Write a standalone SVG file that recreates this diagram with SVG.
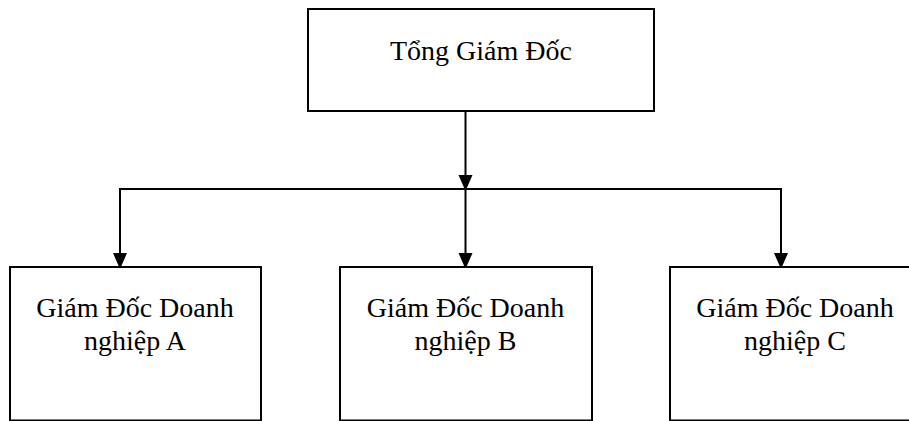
<svg xmlns="http://www.w3.org/2000/svg" width="909" height="421" viewBox="0 0 909 421">
  <style>
    .box { fill: #ffffff; stroke: #000000; stroke-width: 2; }
    .wire { fill: none; stroke: #000000; stroke-width: 2; }
    .label { font-family: "Liberation Serif", Tinos, "Times New Roman", "DejaVu Serif", serif; font-size: 28px; fill: #000000; text-anchor: middle; }
  </style>
  <defs>
    <marker id="arrow" viewBox="0 0 14 16" refX="14" refY="7" markerWidth="14" markerHeight="16" markerUnits="userSpaceOnUse" orient="auto">
      <path d="M0,0 L16,7 L0,14 Z" fill="#000000"/>
    </marker>
  </defs>
  <rect width="909" height="421" fill="#ffffff"/>

  <!-- connectors: trunk, bus, three drops -->
  <g id="connectors">
    <line class="wire" x1="465.5" y1="111" x2="465.5" y2="189" marker-end="url(#arrow)"/>
    <line class="wire" x1="119" y1="189" x2="782" y2="189"/>
    <line class="wire" x1="120" y1="189" x2="120" y2="267" marker-end="url(#arrow)"/>
    <line class="wire" x1="465.5" y1="189" x2="465.5" y2="267" marker-end="url(#arrow)"/>
    <line class="wire" x1="781" y1="189" x2="781" y2="267" marker-end="url(#arrow)"/>
  </g>

  <g id="tong-giam-doc">
    <rect class="box" x="308" y="9" width="346" height="102"/>
    <text class="label" x="481" y="60" font-size="27">Tổng Giám Đốc</text>
  </g>

  <g id="doanh-nghiep-a">
    <rect class="box" x="10" y="267" width="251" height="153.5"/>
    <text class="label" x="135" y="317">Giám Đốc Doanh</text>
    <text class="label" x="135" y="350">nghiệp A</text>
  </g>

  <g id="doanh-nghiep-b">
    <rect class="box" x="340" y="267" width="252" height="153.5"/>
    <text class="label" x="465.5" y="317">Giám Đốc Doanh</text>
    <text class="label" x="465.5" y="350">nghiệp B</text>
  </g>

  <g id="doanh-nghiep-c">
    <rect class="box" x="670" y="267" width="252" height="153.5"/>
    <text class="label" x="795" y="317">Giám Đốc Doanh</text>
    <text class="label" x="795" y="350">nghiệp C</text>
  </g>
</svg>
